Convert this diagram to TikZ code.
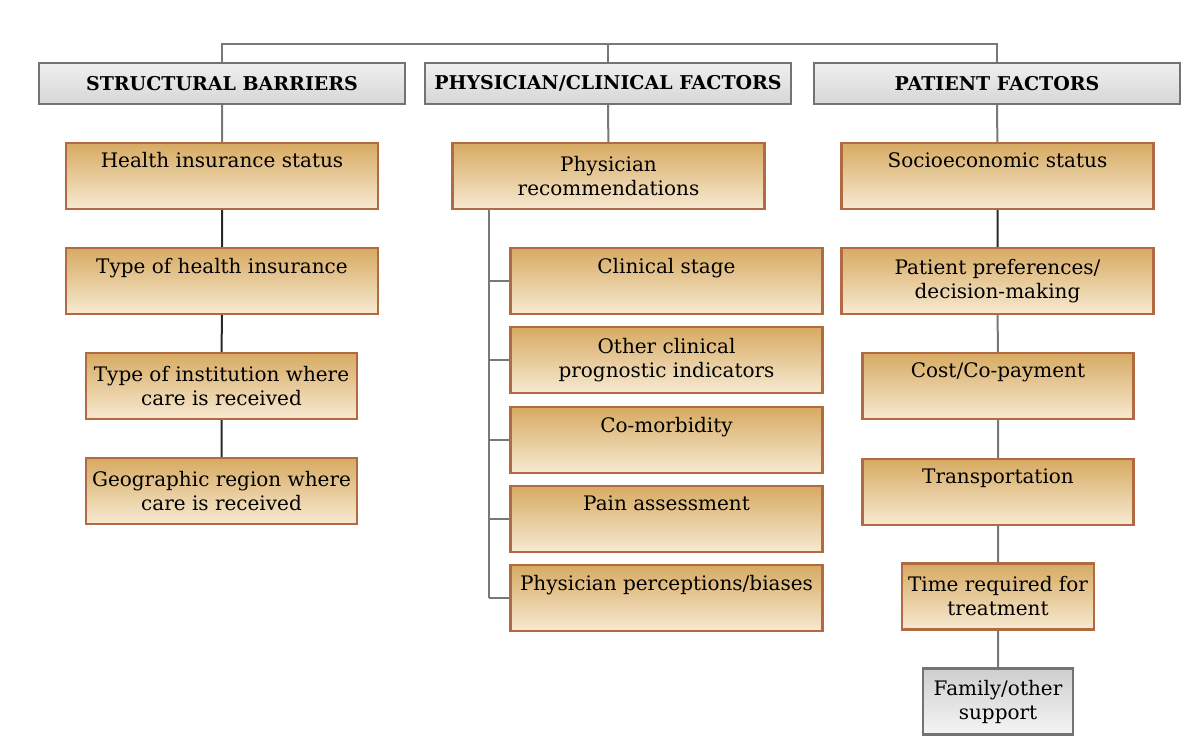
\documentclass[tikz,border=0pt]{standalone}
\usepackage{fontspec}
\setmainfont{DejaVu Serif}
\definecolor{tantop}{RGB}{215,170,98}
\definecolor{tanbot}{RGB}{247,234,210}
\definecolor{tanedge}{RGB}{178,106,66}
\definecolor{linkgray}{RGB}{120,120,120}
\definecolor{linkdark}{RGB}{40,40,40}

\begin{document}
\begin{tikzpicture}[x=0.5pt, y=-0.5pt]
        \tikzstyle{header}=[draw=gray!90!black, line width=1.1pt, top color=gray!12, bottom color=gray!32,
                            minimum width=183pt, minimum height=20.5pt, inner sep=0pt,
                            font=\fontsize{9.5}{11}\selectfont\bfseries]
        \tikzstyle{item}=[draw=tanedge, line width=1.1pt, top color=tantop, bottom color=tanbot,
                          minimum height=33pt, inner sep=0pt, align=center,
                          font=\fontsize{10}{12}\selectfont]
        \tikzstyle{other}=[item, draw=gray!90!black, top color=gray!38, bottom color=gray!8]
        \tikzstyle{wide}=[minimum width=156pt]
        \tikzstyle{medium}=[minimum width=135.5pt]
        \tikzstyle{slim}=[minimum width=96pt]
        \tikzstyle{tiny}=[minimum width=75pt]
        \tikzstyle{link}=[draw=linkgray, line width=1pt]
        \tikzstyle{darklink}=[draw=linkdark, line width=1pt]

        \useasboundingbox (0,0) rectangle (1200,744);

        % headings
        \node   (sb)     [header] at (222,83.5)   {STRUCTURAL BARRIERS};
        \node   (pcf)    [header] at (608,83.5)   {PHYSICIAN/CLINICAL FACTORS};
        \node   (pf)     [header] at (997,83.5)   {PATIENT FACTORS};

        % structural barriers
        \node   (hins)   [item, wide]   at (222,176)   {Health insurance status\\ \strut};
        \node   (htype)  [item, wide]   at (222,281)   {Type of health insurance\\ \strut};
        \node   (inst)   [item, medium] at (221.5,386) {Type of institution where\\care is received};
        \node   (geo)    [item, medium] at (221.5,491) {Geographic region where\\care is received};

        % physician / clinical factors
        \node   (rec)    [item, wide]   at (608.5,176) {Physician\\recommendations};
        \node   (stage)  [item, wide]   at (666.5,281) {Clinical stage\\ \strut};
        \node   (prog)   [item, wide]   at (666.5,360) {Other clinical\\prognostic indicators};
        \node   (comorb) [item, wide]   at (666.5,440) {Co-morbidity\\ \strut};
        \node   (pain)   [item, wide]   at (666.5,519) {Pain assessment\\ \strut};
        \node   (bias)   [item, wide]   at (666.5,598) {Physician perceptions/biases\\ \strut};

        % patient factors
        \node   (ses)    [item, wide]   at (997.5,176) {Socioeconomic status\\ \strut};
        \node   (pref)   [item, wide]   at (997.5,281) {Patient preferences/\\decision-making};
        \node   (cost)   [item, medium] at (998,386)   {Cost/Co-payment\\ \strut};
        \node   (trans)  [item, medium] at (998,492)   {Transportation\\ \strut};
        \node   (time)   [item, slim]   at (998,596.5) {Time required for\\treatment};
        \node   (fam)    [other, tiny]  at (998,701.5) {Family/other\\support};

        % top bar
        \coordinate (top) at (608,44);
        \path[link] (sb.north) |- (top) -| (pf.north)
                    (top) -- (pcf.north);

        % columns
        \path[link] (sb) -- (hins)
                    (pcf) -- (rec)
                    (pf) -- (ses);
        \path[darklink] (hins) -- (htype) -- (inst) -- (geo)
                        (ses) -- (pref);
        \path[link] (pref) -- (cost) -- (trans) -- (time) -- (fam);

        % branches under the recommendations
        \coordinate (trunk) at ([xshift=19pt]rec.south west);
        \path[link] (trunk) -- (trunk |- bias.west);
        \foreach \n in {stage, prog, comorb, pain, bias}
            \path[link] (trunk |- \n.west) -- (\n.west);

\end{tikzpicture}
\end{document}
